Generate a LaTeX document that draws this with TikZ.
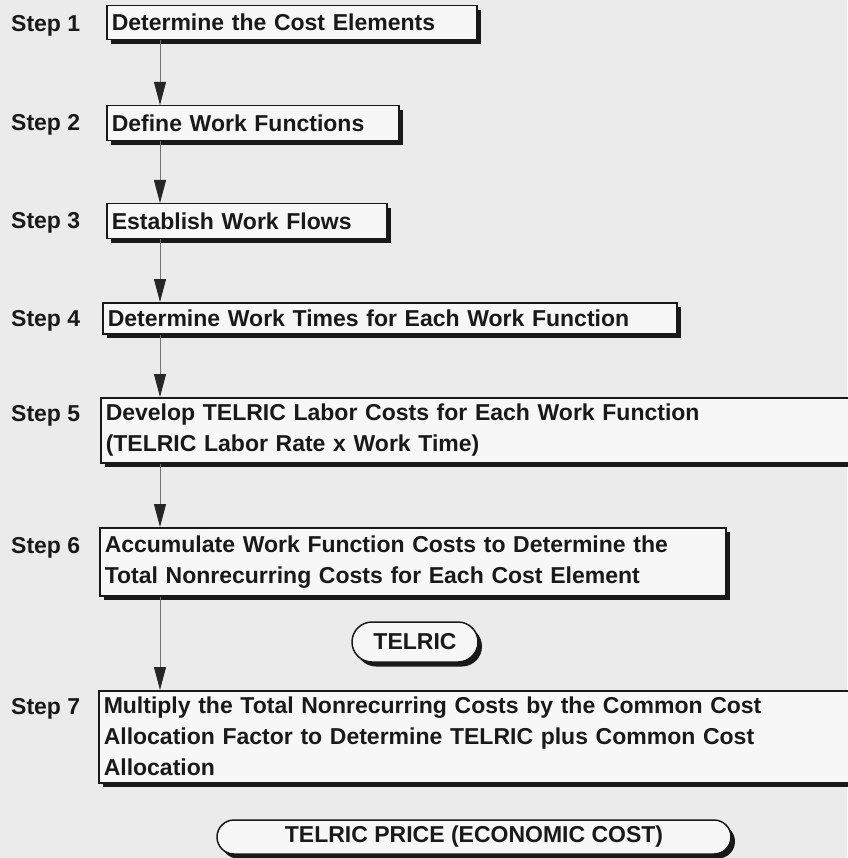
\documentclass[tikz,border=0pt]{standalone}
\usepackage{fontspec}
\setmainfont{Liberation Sans}
\usetikzlibrary{arrows.meta,shadows}

\tikzset{
  stepbox/.style={rectangle, draw=black!90, line width=1.5pt, fill=black!3, anchor=north west,
    align=left, inner xsep=5pt, inner ysep=0pt, text=black!90,
    font=\fontsize{23}{31}\selectfont\bfseries,
    drop shadow={shadow xshift=4pt, shadow yshift=-4.5pt, fill=black!90, opacity=1}},
  resultbox/.style={stepbox, anchor=center, align=center, rounded corners=17pt, inner xsep=0pt},
  steplabel/.style={anchor=base west, inner sep=0pt, text=black!90, font=\fontsize{23}{26}\selectfont\bfseries},
  flow/.style={draw=black!55, line width=0.9pt, -{Triangle[length=23pt, width=12pt, color=black!85]}}
}

\begin{document}
\begin{tikzpicture}[x=1pt, y=-1pt]
      \useasboundingbox (0,0) rectangle (847,858);
      \fill[black!8] (0,0) rectangle (847,858);
      \coordinate (col) at (160,0);
      %
      \foreach \i/\y in {1/32, 2/131, 3/229, 4/326, 5/421, 6/553, 7/714} \node[steplabel] (lab\i) at (11,\y) {Step \i};
      %
      \node[stepbox, text width=360pt, minimum height=34pt] (box1) at (106,5) {Determine the Cost Elements};
      \node[stepbox, text width=282pt, minimum height=35pt] (box2) at (106,105) {Define Work Functions};
      \node[stepbox, text width=270pt, minimum height=35pt] (box3) at (106,203) {Establish Work Flows};
      \node[stepbox, text width=564pt, minimum height=31pt] (box4) at (102,302) {Determine Work Times for Each Work Function};
      \node[stepbox, text width=760pt, minimum height=65pt] (box5) at (100,397) {Develop TELRIC Labor Costs for Each Work Function\\(TELRIC Labor Rate x Work Time)};
      \node[stepbox, text width=616pt, minimum height=68pt] (box6) at (99,527) {Accumulate Work Function Costs to Determine the\\Total Nonrecurring Costs for Each Cost Element};
      \node[stepbox, text width=760pt, minimum height=92pt] (box7) at (98,690) {Multiply the Total Nonrecurring Costs by the Common Cost\\Allocation Factor to Determine TELRIC plus Common Cost\\Allocation};
      %
      \node[resultbox, minimum width=126pt, minimum height=40pt, rounded corners=20pt] (telric) at (415,642) {TELRIC};
      \node[resultbox, minimum width=514pt, minimum height=34pt] (price) at (474,837) {TELRIC PRICE (ECONOMIC COST)};
      %
      \foreach \a/\b in {1/2, 2/3, 3/4, 4/5, 5/6, 6/7} \draw[flow] (box\a.south -| col) -- (box\b.north -| col);
    \end{tikzpicture}
\end{document}
